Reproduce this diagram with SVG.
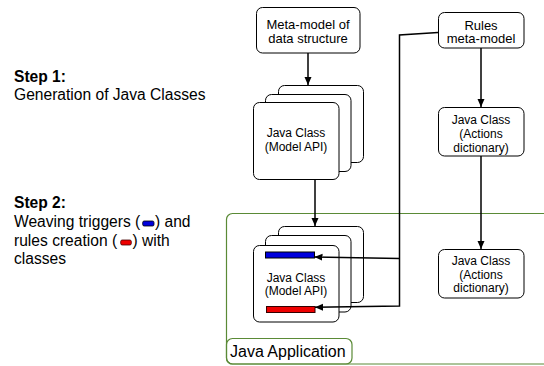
<svg xmlns="http://www.w3.org/2000/svg" width="544" height="366" viewBox="0 0 544 366">
<style>
.box{fill:#fff;stroke:#000;stroke-width:1}
.t{font-family:"Liberation Sans",Arial,sans-serif;fill:#000}
.b12{font-size:12px;text-anchor:middle}
.b13{font-size:13px;text-anchor:middle}
.side{font-size:15.6px}
.edge{fill:none;stroke:#000;stroke-width:1.5}
.green{fill:none;stroke:#5a8a36;stroke-width:1.2}
</style>
<defs>
<marker id="ah" markerWidth="8" markerHeight="8" refX="8" refY="4" orient="auto" markerUnits="userSpaceOnUse">
<path d="M0,0.5 L8,4 L0,7.5 Z" fill="#000"/>
</marker>
</defs>
<rect width="544" height="366" fill="#fff"/>

<g id="side-text">
<text class="t side" x="14" y="82" font-weight="bold">Step 1:</text>
<text class="t side" x="14" y="100">Generation of Java Classes</text>
<text class="t side" x="14" y="208" font-weight="bold">Step 2:</text>
<text class="t side" x="14" y="227">Weaving triggers (</text>
<rect x="142.7" y="221" width="11.3" height="5" rx="1.5" fill="#0000dd" stroke="#000" stroke-width="0.8"/>
<text class="t side" x="155" y="227">) and</text>
<text class="t side" x="14" y="246">rules creation (</text>
<rect x="120.7" y="240" width="10.6" height="5" rx="1.5" fill="#ee0000" stroke="#400" stroke-width="0.8"/>
<text class="t side" x="132.5" y="246">) with</text>
<text class="t side" x="14" y="264">classes</text>
</g>

<g id="java-application">
<rect class="green" x="226.5" y="213.5" width="330" height="150.5" rx="6"/>
<rect class="green" x="226.5" y="338.5" width="125.5" height="25.5" rx="6"/>
<text class="t" x="230" y="357" font-size="16px">Java Application</text>
</g>

<g id="meta-model">
<rect class="box" x="256.5" y="7.5" width="103.5" height="45.5" rx="6"/>
<text class="t b13" x="308" y="29">Meta-model of</text>
<text class="t b13" x="308" y="43">data structure</text>
</g>

<g id="rules-meta-model">
<rect class="box" x="438.5" y="12.5" width="85.5" height="35.5" rx="6"/>
<text class="t b13" x="481" y="29.5">Rules</text>
<text class="t b13" x="481" y="43">meta-model</text>
</g>

<g id="java-class-model-api">
<rect class="box" x="278.5" y="85.5" width="85" height="77" rx="6"/>
<rect class="box" x="265.5" y="94.5" width="85.5" height="77" rx="6"/>
<rect class="box" x="253.5" y="102.5" width="85.5" height="77" rx="6"/>
<text class="t b12" x="296" y="137">Java Class</text>
<text class="t b12" x="296" y="151">(Model API)</text>
</g>

<g id="java-class-actions-1">
<rect class="box" x="438.5" y="107.5" width="85.5" height="48.5" rx="6"/>
<text class="t b12" x="481" y="124">Java Class</text>
<text class="t b12" x="481" y="138">(Actions</text>
<text class="t b12" x="481" y="152">dictionary)</text>
</g>

<g id="java-class-model-api-woven">
<rect class="box" x="278.5" y="226.5" width="85" height="76" rx="6"/>
<rect class="box" x="265.5" y="235.5" width="85.5" height="76.5" rx="6"/>
<rect class="box" x="253.5" y="245.5" width="85.5" height="76.5" rx="6"/>
<rect x="265.5" y="252" width="49" height="6" fill="#0000dd" stroke="#000" stroke-width="1"/>
<rect x="266.5" y="306.5" width="48.5" height="6" fill="#ee0000" stroke="#300" stroke-width="1"/>
<text class="t b12" x="296" y="281.5">Java Class</text>
<text class="t b12" x="296" y="295">(Model API)</text>
</g>

<g id="java-class-actions-2">
<rect class="box" x="438.5" y="249.5" width="85.5" height="48.5" rx="6"/>
<text class="t b12" x="481" y="265">Java Class</text>
<text class="t b12" x="481" y="279">(Actions</text>
<text class="t b12" x="481" y="292">dictionary)</text>
</g>

<g id="connectors">
<line class="edge" x1="308" y1="53" x2="308" y2="85" marker-end="url(#ah)"/>
<line class="edge" x1="315" y1="179.5" x2="315" y2="226" marker-end="url(#ah)"/>
<line class="edge" x1="481" y1="48" x2="481" y2="107" marker-end="url(#ah)"/>
<line class="edge" x1="481" y1="156" x2="481" y2="249" marker-end="url(#ah)"/>
<polyline class="edge" points="438,32.5 399.5,35 399.5,306 315,307.3" marker-end="url(#ah)"/>
<line class="edge" x1="399.5" y1="258.5" x2="314.5" y2="257" marker-end="url(#ah)"/>
</g>
</svg>
